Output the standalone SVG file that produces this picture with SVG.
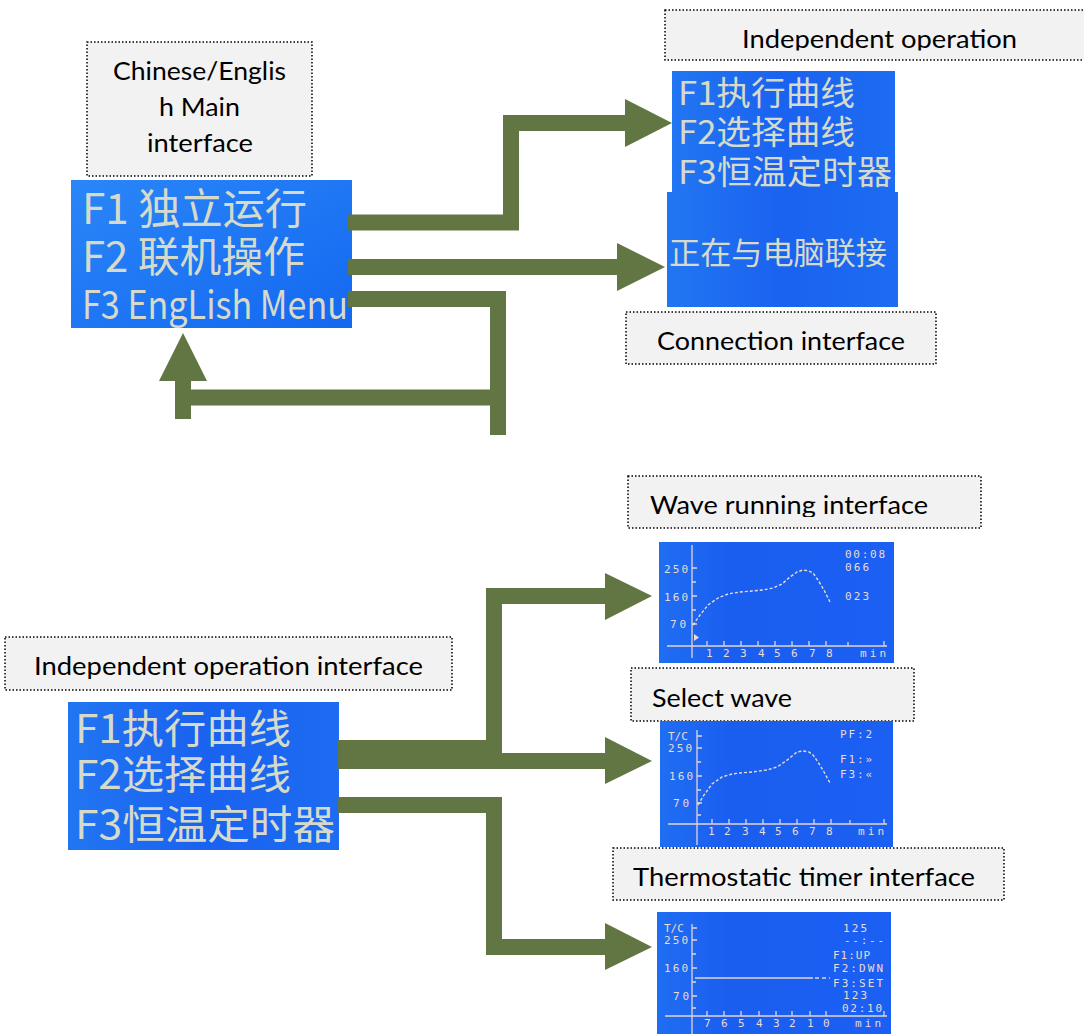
<svg xmlns="http://www.w3.org/2000/svg" width="1084" height="1034" viewBox="0 0 1084 1034">
<style>
.lb rect{fill:#f2f2f2;stroke:#000;stroke-width:1.5;stroke-dasharray:1.5 2}
.lb text{font-family:Lato,"Liberation Sans",sans-serif;font-size:25px;fill:#000}
.cn path{fill:none;stroke:#617642;stroke-width:16;stroke-linejoin:miter;stroke-linecap:butt}
.cn polygon{fill:#617642}
.lcd{font-family:"Noto Sans CJK SC","Noto Sans CJK JP",sans-serif;fill:#d6dacb}
.mini{font-family:"DejaVu Sans Mono","Liberation Mono",monospace;font-size:11px;fill:#eadbd3}
.ax{stroke:#e6d3d3;stroke-width:1.3;fill:none}
.cv{stroke:#eadbd3;stroke-width:1.4;fill:none;stroke-dasharray:3 2}
</style>
<defs>
<linearGradient id="gMain" x1="0" y1="0" x2="1" y2="1">
<stop offset="0" stop-color="#2a86f8"/><stop offset="1" stop-color="#1468f0"/>
</linearGradient>
<linearGradient id="gLcd" x1="0" y1="0" x2="1" y2="0">
<stop offset="0" stop-color="#2276f2"/><stop offset="0.5" stop-color="#1a62f0"/><stop offset="1" stop-color="#1d6cf2"/>
</linearGradient>
<linearGradient id="gMini" x1="0" y1="0" x2="1" y2="0">
<stop offset="0" stop-color="#1f6ef2"/><stop offset="0.3" stop-color="#1a5ef0"/><stop offset="1" stop-color="#1a60f2"/>
</linearGradient>
<clipPath id="c1"><rect x="665" y="10" width="419" height="40.5"/></clipPath>
<clipPath id="c2"><rect x="628" y="476" width="353" height="41"/></clipPath>
<clipPath id="c3"><rect x="5" y="637" width="447" height="44"/></clipPath>
</defs>

<g id="label-main" class="lb">
<rect x="87" y="42" width="225" height="134"/>
<text x="113" y="80" textLength="173" lengthAdjust="spacingAndGlyphs">Chinese/Englis</text>
<text x="159" y="116" textLength="81" lengthAdjust="spacingAndGlyphs">h Main</text>
<text x="147" y="152" textLength="106" lengthAdjust="spacingAndGlyphs">interface</text>
</g>

<g id="screen-main">
<rect x="71" y="180" width="281" height="148" fill="url(#gMain)"/>
<text class="lcd" x="82" y="224" font-size="42" textLength="225" lengthAdjust="spacingAndGlyphs">F1 独立运行</text>
<text class="lcd" x="82" y="272" font-size="42" textLength="223" lengthAdjust="spacingAndGlyphs">F2 联机操作</text>
<text class="lcd" x="82" y="319" font-size="39" textLength="266" lengthAdjust="spacingAndGlyphs">F3 EngLish Menu</text>
</g>

<g id="label-independent" class="lb">
<rect x="665" y="10" width="425" height="50"/>
<text x="742" y="48" textLength="275" lengthAdjust="spacingAndGlyphs" clip-path="url(#c1)">Independent operation</text>
</g>

<g id="screen-independent">
<rect x="672" y="71" width="223" height="121" fill="url(#gLcd)"/>
<text class="lcd" x="678" y="105" font-size="33" textLength="177" lengthAdjust="spacingAndGlyphs">F1执行曲线</text>
<text class="lcd" x="678" y="144" font-size="33" textLength="177" lengthAdjust="spacingAndGlyphs">F2选择曲线</text>
<text class="lcd" x="678" y="184" font-size="33" textLength="214" lengthAdjust="spacingAndGlyphs">F3恒温定时器</text>
</g>

<g id="screen-connection">
<rect x="667" y="192" width="231" height="115" fill="url(#gLcd)"/>
<text class="lcd" x="669" y="264" font-size="31" textLength="218" lengthAdjust="spacingAndGlyphs">正在与电脑联接</text>
</g>

<g id="label-connection" class="lb">
<rect x="626" y="312" width="310" height="52"/>
<text x="657" y="350" textLength="248" lengthAdjust="spacingAndGlyphs">Connection interface</text>
</g>

<g id="label-independent-interface" class="lb">
<rect x="5" y="637" width="447" height="53"/>
<text x="34" y="675" textLength="389" lengthAdjust="spacingAndGlyphs" clip-path="url(#c3)">Independent operation interface</text>
</g>

<g id="screen-independent-2">
<rect x="68" y="702" width="271" height="148" fill="url(#gLcd)"/>
<text class="lcd" x="75" y="743" font-size="40" textLength="216" lengthAdjust="spacingAndGlyphs">F1执行曲线</text>
<text class="lcd" x="75" y="789" font-size="40" textLength="216" lengthAdjust="spacingAndGlyphs">F2选择曲线</text>
<text class="lcd" x="75" y="839" font-size="40" textLength="260" lengthAdjust="spacingAndGlyphs">F3恒温定时器</text>
</g>

<g id="label-wave-running" class="lb">
<rect x="628" y="476" width="353" height="52"/>
<text x="650" y="514" textLength="278" lengthAdjust="spacingAndGlyphs" clip-path="url(#c2)">Wave running interface</text>
</g>

<g id="screen-wave-running">
<rect x="659" y="542" width="235" height="121" fill="url(#gMini)"/>
<path class="ax" d="M692,545 V658 M667,646 H887 M692,568 H697 M692,582 H696 M692,596 H697 M692,610 H696 M692,624 H697 M707,646 V641 M724,646 V641 M741,646 V641 M758,646 V641 M775,646 V641 M792,646 V641 M809,646 V641 M826,646 V641 M848,646 V642 M884,646 V641"/>
<polygon points="694,634 699,637.5 694,641" fill="#eadbd3"/>
<text class="mini" x="664" y="573" textLength="24">250</text>
<text class="mini" x="664" y="601" textLength="24">160</text>
<text class="mini" x="670" y="628" textLength="16">70</text>
<text class="mini" x="706" y="657">1</text>
<text class="mini" x="723" y="657">2</text>
<text class="mini" x="740" y="657">3</text>
<text class="mini" x="758" y="657">4</text>
<text class="mini" x="774" y="657">5</text>
<text class="mini" x="791" y="657">6</text>
<text class="mini" x="809" y="657">7</text>
<text class="mini" x="826" y="657">8</text>
<text class="mini" x="860" y="657" textLength="26">min</text>
<text class="mini" x="845" y="558" textLength="40">00:08</text>
<text class="mini" x="845" y="571" textLength="24">066</text>
<text class="mini" x="845" y="600" textLength="24">023</text>
<polyline class="cv" points="693,625 700,615 708,605 718,598 728,594 740,592 752,591 763,590 773,588 782,584 790,577 797,572 803,570 809,571 813,573 818,580 824,590 830,602"/>
</g>

<g id="label-select-wave" class="lb">
<rect x="631" y="668" width="283" height="53"/>
<text x="652" y="707" textLength="140" lengthAdjust="spacingAndGlyphs">Select wave</text>
</g>

<g id="screen-select-wave">
<rect x="660" y="721" width="233" height="126" fill="url(#gMini)"/>
<path class="ax" d="M697,730 V845 M668,824 H887 M697,736 H702 M697,748 H702 M697,762 H701 M697,776 H702 M697,790 H701 M697,803 H702 M697,815 H701 M712,824 V819 M729,824 V819 M746,824 V819 M763,824 V819 M780,824 V819 M797,824 V819 M814,824 V819 M831,824 V819 M850,824 V820 M884,824 V819"/>
<text class="mini" x="668" y="740">T/C</text>
<text class="mini" x="668" y="752" textLength="24">250</text>
<text class="mini" x="669" y="780" textLength="24">160</text>
<text class="mini" x="673" y="807" textLength="16">70</text>
<text class="mini" x="708" y="835">1</text>
<text class="mini" x="724" y="835">2</text>
<text class="mini" x="742" y="835">3</text>
<text class="mini" x="759" y="835">4</text>
<text class="mini" x="775" y="835">5</text>
<text class="mini" x="792" y="835">6</text>
<text class="mini" x="809" y="835">7</text>
<text class="mini" x="826" y="835">8</text>
<text class="mini" x="858" y="835" textLength="26">min</text>
<text class="mini" x="840" y="738" textLength="32">PF:2</text>
<text class="mini" x="840" y="763" textLength="32">F1:»</text>
<text class="mini" x="840" y="778" textLength="32">F3:«</text>
<polyline class="cv" points="698,805 704,795 712,784 722,777 732,774 740,773 752,772 767,770 777,767 786,761 797,752 803,751 809,752 813,755 818,762 824,772 830,783"/>
</g>

<g id="label-thermostatic" class="lb">
<rect x="613" y="848" width="391" height="52"/>
<text x="633" y="886" textLength="342" lengthAdjust="spacingAndGlyphs">Thermostatic timer interface</text>
</g>

<g id="screen-thermostatic">
<rect x="657" y="912" width="234" height="122" fill="url(#gMini)"/>
<path class="ax" d="M692,924 V1034 M665,1016 H887 M692,928 H697 M692,940 H697 M692,954 H696 M692,968 H697 M692,982 H696 M692,996 H697 M692,1008 H696 M707,1016 V1011 M724,1016 V1011 M741,1016 V1011 M759,1016 V1011 M776,1016 V1011 M792,1016 V1011 M810,1016 V1011 M826,1016 V1011 M884,1016 V1011"/>
<path class="ax" d="M695,978 H813"/>
<path class="ax" d="M815,978 H830" stroke-dasharray="4 3"/>
<text class="mini" x="664" y="932">T/C</text>
<text class="mini" x="664" y="944" textLength="24">250</text>
<text class="mini" x="664" y="972" textLength="24">160</text>
<text class="mini" x="673" y="1000" textLength="16">70</text>
<text class="mini" x="704" y="1027">7</text>
<text class="mini" x="721" y="1027">6</text>
<text class="mini" x="738" y="1027">5</text>
<text class="mini" x="756" y="1027">4</text>
<text class="mini" x="773" y="1027">3</text>
<text class="mini" x="789" y="1027">2</text>
<text class="mini" x="807" y="1027">1</text>
<text class="mini" x="823" y="1027">0</text>
<text class="mini" x="855" y="1027" textLength="26">min</text>
<text class="mini" x="843" y="932" textLength="24">125</text>
<text class="mini" x="844" y="944" textLength="40">--:--</text>
<text class="mini" x="833" y="959" textLength="37">F1:UP</text>
<text class="mini" x="833" y="972" textLength="50">F2:DWN</text>
<text class="mini" x="833" y="987" textLength="50">F3:SET</text>
<text class="mini" x="843" y="999" textLength="24">123</text>
<text class="mini" x="842" y="1012" textLength="40">02:10</text>
</g>

<g id="connectors" class="cn">
<path d="M348,222.5 H511 V123 H626"/>
<polygon points="625,99 672,123 625,147"/>
<path d="M348,267 H618"/>
<polygon points="617,243 665,267 617,291"/>
<path d="M348,299 H498 V435"/>
<path d="M498,397.5 H183"/>
<path d="M183,419 V380"/>
<polygon points="159,381 207,381 183,333"/>
<path d="M338,748 H494 V596 H606"/>
<polygon points="605,573 652,596 605,620"/>
<path d="M338,761 H606"/>
<polygon points="605,737 652,761 605,784"/>
<path d="M338,805 H494 V947 H606"/>
<polygon points="605,923 652,947 605,970"/>
</g>
</svg>
